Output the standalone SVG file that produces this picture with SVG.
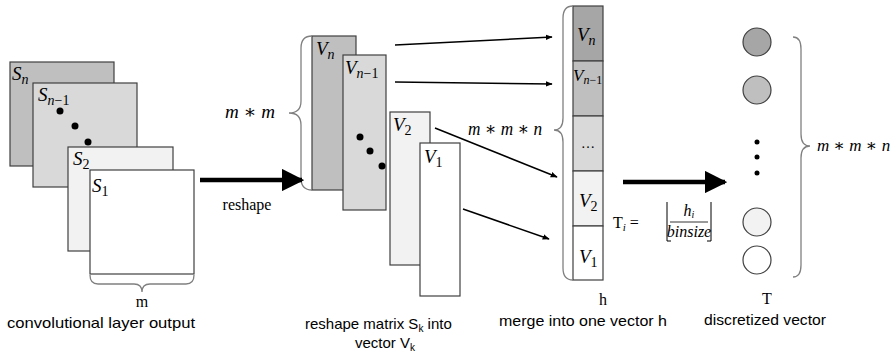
<svg xmlns="http://www.w3.org/2000/svg" width="896" height="360" viewBox="0 0 896 360">
<defs>
<marker id="ah" viewBox="0 0 10 10" refX="9" refY="5" markerWidth="7" markerHeight="7" orient="auto" markerUnits="userSpaceOnUse"><path d="M0,1 L10,5 L0,9 z" fill="#000"/></marker>
<marker id="big" viewBox="0 0 10 10" refX="9" refY="5" markerWidth="5" markerHeight="5" orient="auto"><path d="M0,0 L10,5 L0,10 z" fill="#000"/></marker>
</defs>
<style>
.box{stroke:#404040;stroke-width:1.2}
.m{font-family:"Liberation Serif","DejaVu Serif",serif;font-style:italic;font-size:19px;fill:#000}
.sub{font-size:14px}
.d{font-style:normal}
.r{font-family:"Liberation Serif","DejaVu Serif",serif;font-size:16px;fill:#000}
.cap{font-family:"Liberation Sans","DejaVu Sans",sans-serif;font-size:15px;fill:#000}
.br{fill:none;stroke:#808080;stroke-width:1.3}
</style>
<g id="squares">
<rect class="box" x="10" y="62" width="104" height="104" fill="#bfbfbf"/>
<text class="m" x="12" y="80">S<tspan class="sub" dy="4">n</tspan></text>
<rect class="box" x="33" y="83" width="104" height="104" fill="#d9d9d9"/>
<text class="m" x="38" y="101">S<tspan class="sub" dy="4">n<tspan class="d">−1</tspan></tspan></text>
<circle cx="60" cy="111" r="3.5"/><circle cx="75" cy="126" r="3.5"/><circle cx="88" cy="142" r="3.5"/>
<rect class="box" x="68" y="147" width="105" height="104" fill="#f2f2f2"/>
<text class="m" x="73" y="165">S<tspan class="sub d" dy="4">2</tspan></text>
<rect class="box" x="90" y="170" width="104" height="104" fill="#fff"/>
<text class="m" x="92" y="192">S<tspan class="sub d" dy="4">1</tspan></text>
<path class="br" d="M90,275 Q90,284 98,284 L134,284 Q142,284 142,292 Q142,284 150,284 L186,284 Q194,284 194,275"/>
<text class="r" x="142" y="307" text-anchor="middle">m</text>
<text class="cap" x="101" y="328" text-anchor="middle" textLength="188" lengthAdjust="spacingAndGlyphs">convolutional layer output</text>
</g>
<g id="vectors">
<rect class="box" x="312" y="36" width="44" height="154" fill="#bfbfbf"/>
<text class="m" x="316" y="55">V<tspan class="sub" dy="4">n</tspan></text>
<rect class="box" x="343" y="55" width="43" height="155" fill="#d9d9d9"/>
<text class="m" x="345" y="74">V<tspan class="sub" dy="4">n<tspan class="d">−1</tspan></tspan></text>
<circle cx="360" cy="137" r="3.5"/><circle cx="370" cy="151" r="3.5"/><circle cx="382" cy="166" r="3.5"/>
<rect class="box" x="390" y="112" width="40" height="153" fill="#f2f2f2"/>
<text class="m" x="393" y="131">V<tspan class="sub d" dy="4">2</tspan></text>
<rect class="box" x="420" y="143" width="40" height="153" fill="#fff"/>
<text class="m" x="424" y="163">V<tspan class="sub d" dy="4">1</tspan></text>
<path class="br" d="M312,36 Q301,36 301,48 L301,101 Q301,113 289,113 Q301,113 301,125 L301,178 Q301,190 312,190"/>
<text class="m" x="225" y="118" textLength="50" lengthAdjust="spacingAndGlyphs">m ∗ m</text>
<text class="cap" x="305" y="329">reshape matrix S<tspan style="font-size:10px" dy="3">k</tspan><tspan dy="-3"> into</tspan></text>
<text class="cap" x="385" y="348" text-anchor="middle">vector V<tspan style="font-size:10px" dy="3">k</tspan></text>
</g>
<g id="merged">
<rect class="box" x="573" y="6" width="30" height="55" fill="#a6a6a6"/>
<rect class="box" x="573" y="61" width="30" height="55" fill="#bfbfbf"/>
<rect class="box" x="573" y="116" width="30" height="55" fill="#d9d9d9"/>
<rect class="box" x="573" y="171" width="30" height="55" fill="#f2f2f2"/>
<rect class="box" x="573" y="226" width="30" height="54" fill="#fff"/>
<text class="m" x="577" y="41">V<tspan class="sub" dy="4">n</tspan></text>
<text class="m" x="573" y="81" style="font-size:17px">V<tspan style="font-size:12px" dy="3">n<tspan class="d">−1</tspan></tspan></text>
<text class="r" x="588" y="148" text-anchor="middle" style="font-size:14px">…</text>
<text class="m" x="579" y="207">V<tspan class="sub d" dy="4">2</tspan></text>
<text class="m" x="579" y="263">V<tspan class="sub d" dy="4">1</tspan></text>
<path class="br" d="M573,6 Q563,6 563,18 L563,118 Q563,130 554,130 Q563,130 563,142 L563,268 Q563,280 573,280"/>
<text class="m" x="468" y="135" textLength="74" lengthAdjust="spacingAndGlyphs">m ∗ m ∗ n</text>
<text class="r" x="603" y="305" text-anchor="middle">h</text>
<text class="cap" x="583" y="326" text-anchor="middle" textLength="168" lengthAdjust="spacingAndGlyphs">merge into one vector h</text>
</g>
<g id="discretized">
<circle cx="757" cy="42" r="14" fill="#a6a6a6" stroke="#404040" stroke-width="1.2"/>
<circle cx="757" cy="90" r="14" fill="#bfbfbf" stroke="#404040" stroke-width="1.2"/>
<circle cx="757" cy="142" r="2.5"/><circle cx="757" cy="157" r="2.5"/><circle cx="757" cy="173" r="2.5"/>
<circle cx="757" cy="222" r="14" fill="#f2f2f2" stroke="#404040" stroke-width="1.2"/>
<circle cx="757" cy="260" r="14" fill="#fff" stroke="#404040" stroke-width="1.2"/>
<path class="br" d="M793,37 Q801,37 801,49 L801,134 Q801,146 810,146 Q801,146 801,158 L801,265 Q801,277 793,277"/>
<text class="m" x="817" y="151" style="font-size:17px">m ∗ m ∗ n</text>
<text class="r" x="767" y="304" text-anchor="middle">T</text>
<text class="cap" x="765" y="325" text-anchor="middle" textLength="122" lengthAdjust="spacingAndGlyphs">discretized vector</text>
</g>
<g id="formula">
<text class="r" x="613" y="228" style="font-size:16px">T<tspan style="font-style:italic;font-size:11px" dy="3">i</tspan><tspan dy="-3"> =</tspan></text>
<path d="M667,202 L667,241 L671,241 M711,202 L711,241 L707,241" fill="none" stroke="#000" stroke-width="1"/>
<line x1="670" y1="222" x2="708" y2="222" stroke="#000" stroke-width="0.8"/>
<text class="m" x="689" y="216" text-anchor="middle" style="font-size:16px">h<tspan style="font-size:10px" dy="2">i</tspan></text>
<text class="m" x="689" y="237" text-anchor="middle" style="font-size:16px">binsize</text>
</g>
<g id="connectors">
<line x1="200" y1="180" x2="302" y2="180" stroke="#000" stroke-width="4.5" marker-end="url(#big)"/>
<text class="r" x="247" y="210" text-anchor="middle">reshape</text>
<line x1="395" y1="45" x2="552" y2="37" stroke="#000" stroke-width="1.5" marker-end="url(#ah)"/>
<line x1="395" y1="82" x2="552" y2="84" stroke="#000" stroke-width="1.5" marker-end="url(#ah)"/>
<line x1="435" y1="128" x2="557" y2="177" stroke="#000" stroke-width="1.5" marker-end="url(#ah)"/>
<line x1="463" y1="209" x2="549" y2="239" stroke="#000" stroke-width="1.5" marker-end="url(#ah)"/>
<line x1="623" y1="182" x2="725" y2="182" stroke="#000" stroke-width="4.5" marker-end="url(#big)"/>
</g>
</svg>
